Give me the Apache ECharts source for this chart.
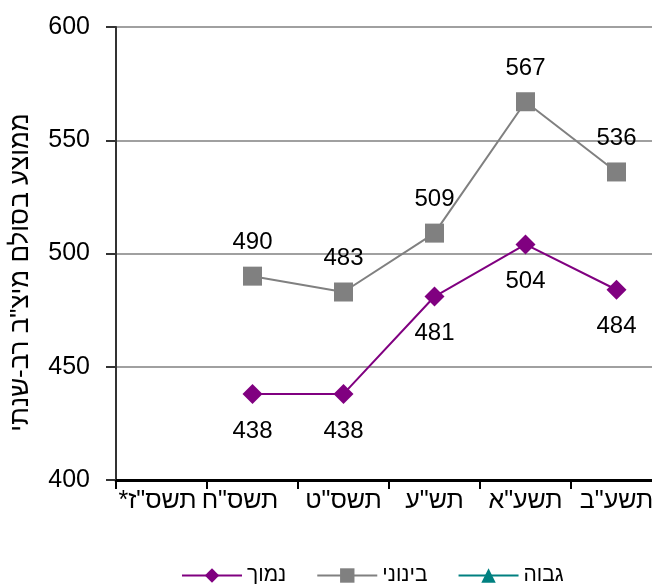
<!DOCTYPE html>
<html>
<head>
<meta charset="utf-8">
<script src="https://cdn.jsdelivr.net/npm/echarts@6/dist/echarts.min.js"></script>
<style>html,body{margin:0;padding:0;background:#fff}#c{width:652px;height:584px}</style>
</head>
<body>
<div id="c"></div>
<script>
const categories = ['*תשס"ז', 'תשס"ח', 'תשס"ט', 'תש"ע', 'תשע"א', 'תשע"ב'];
const lowValues = [null, 438, 438, 481, 504, 484];
const midValues = [null, 490, 483, 509, 567, 536];
const highValues = [null, null, null, null, null, null];
const yTicks = [400, 450, 500, 550, 600];
const seriesNames = ['נמוך', 'בינוני', 'גבוה'];
const yTitle = 'ממוצע בסולם מיצ"ב רב-שנתי';

const FONT = 'Liberation Sans, Arial, DejaVu Sans, sans-serif';
const labelShift = [8, 25, 0, 0, 0, 0];

const chart = echarts.init(document.getElementById('c'), null, {renderer: 'canvas'});
chart.setOption({
  animation: false,
  backgroundColor: '#ffffff',
  grid: {left: 116, width: 546, top: 27, bottom: 104, containLabel: false, outerBoundsMode: 'none'},
  legend: {
    data: seriesNames,
    top: 560,
    left: 176,
    itemWidth: 60,
    itemHeight: 18,
    itemGap: 30,
    textStyle: {fontFamily: FONT, fontSize: 21, color: '#000'}
  },
  xAxis: {
    type: 'category',
    data: categories.map((c, i) => ({value: c, textStyle: {padding: [0, labelShift[i], 0, 0]}})),
    boundaryGap: true,
    axisLine: {lineStyle: {color: '#000', width: 3}},
    axisTick: {show: true, length: 9, lineStyle: {color: '#000', width: 2}},
    axisLabel: {fontFamily: FONT, fontSize: 25, color: '#000', margin: 9, interval: 0, hideOverlap: false}
  },
  yAxis: {
    type: 'value',
    min: yTicks[0],
    max: yTicks[yTicks.length - 1],
    interval: 50,
    name: yTitle,
    nameLocation: 'middle',
    nameGap: 82,
    nameTextStyle: {fontFamily: FONT, fontSize: 26, color: '#000', padding: [0, 38, 0, 0]},
    axisLine: {show: true, lineStyle: {color: '#333', width: 2}},
    axisTick: {show: true, length: 10, lineStyle: {color: '#333', width: 2}},
    axisLabel: {fontFamily: FONT, fontSize: 25, color: '#000', margin: 26},
    splitLine: {show: true, lineStyle: {color: '#a0a0a0', width: 2}}
  },
  series: [
    {
      name: seriesNames[0], type: 'line', data: lowValues,
      color: '#800080', symbol: 'diamond', symbolSize: 20,
      lineStyle: {width: 2, color: '#800080'},
      itemStyle: {color: '#800080'},
      label: {show: true, position: 'bottom', distance: 15, fontFamily: FONT, fontSize: 24, color: '#000'}
    },
    {
      name: seriesNames[1], type: 'line', data: midValues,
      color: '#808080', symbol: 'rect', symbolSize: 19,
      lineStyle: {width: 2, color: '#808080'},
      itemStyle: {color: '#808080'},
      label: {show: true, position: 'top', distance: 12, fontFamily: FONT, fontSize: 24, color: '#000'}
    },
    {
      name: seriesNames[2], type: 'line', data: highValues,
      color: '#008080', symbol: 'triangle', symbolSize: 16,
      lineStyle: {width: 2, color: '#008080'},
      itemStyle: {color: '#008080'}
    }
  ]
});
</script>
</body>
</html>
